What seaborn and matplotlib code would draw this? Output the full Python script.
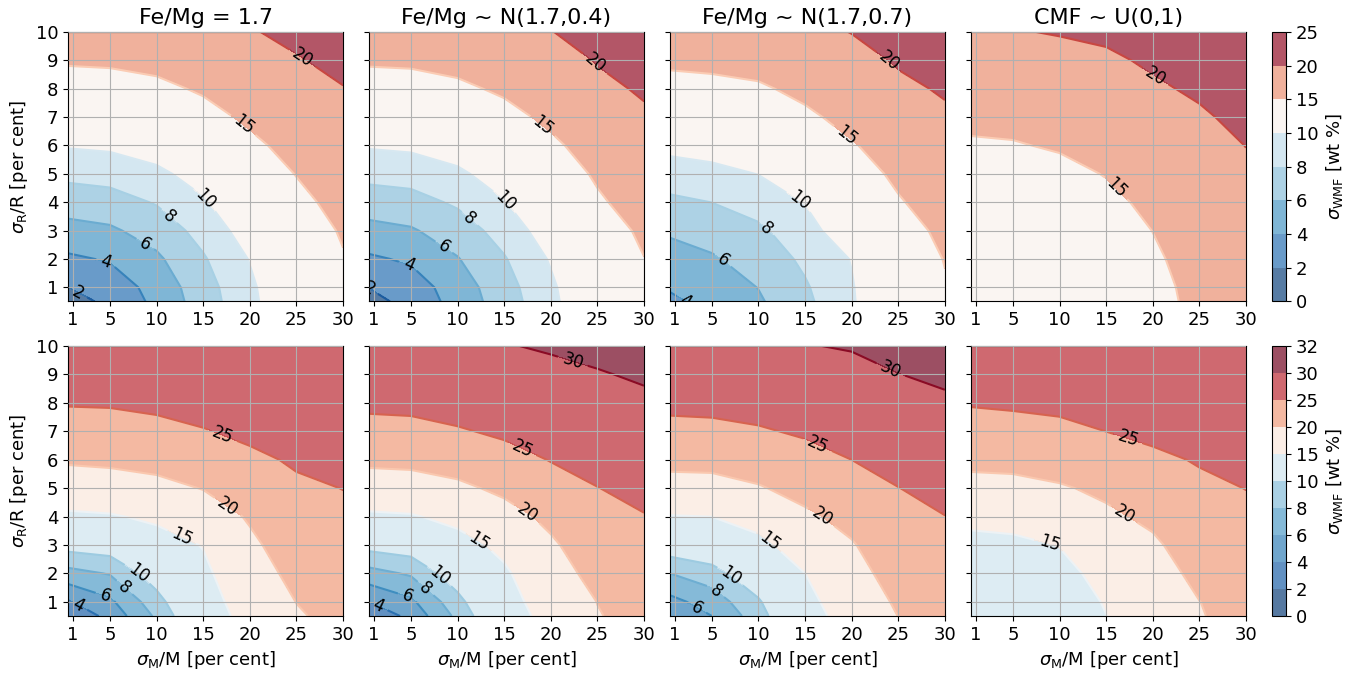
import numpy as np
import matplotlib
matplotlib.use("Agg")
import matplotlib.pyplot as plt
import seaborn as sns

sns.set_style("ticks")
plt.rcParams["font.family"] = ["DejaVu Sans"]
plt.rcParams["mathtext.fontset"] = "dejavusans"
for key in ["text.color", "axes.labelcolor", "axes.edgecolor", "xtick.color", "ytick.color"]:
    plt.rcParams[key] = "black"

# Grid of mass and radius uncertainties (per cent)
sigma_m = [0.5, 5, 10, 15, 20, 25, 30]
sigma_r = [0.5, 1, 2, 3, 4, 5, 6, 7, 8, 9, 10]

titles = ["Fe/Mg = 1.7", "Fe/Mg ~ N(1.7,0.4)", "Fe/Mg ~ N(1.7,0.7)", "CMF ~ U(0,1)"]
levels_top = [0, 2, 4, 6, 8, 10, 15, 20, 25]
levels_bottom = [0, 2, 4, 6, 8, 10, 15, 20, 25, 30, 32]
x_ticks = [1, 5, 10, 15, 20, 25, 30]
y_ticks = [1, 2, 3, 4, 5, 6, 7, 8, 9, 10]

# sigma_WMF [wt %]; rows follow sigma_r, columns follow sigma_m
top_fixed = [
    [1.3, 2.4, 4.5, 7.0, 9.5, 12.0, 14.5],
    [2.0, 2.84, 4.75, 7.16, 9.62, 12.1, 14.55],
    [3.67, 4.19, 5.66, 7.8, 10.1, 12.6, 14.8],
    [5.33, 5.7, 6.85, 8.7, 11.0, 13.3, 15.3],
    [6.92, 7.21, 8.15, 9.76, 12.0, 14.2, 16.0],
    [8.5, 8.74, 9.53, 10.93, 13.1, 15.1, 16.8],
    [10.17, 10.37, 11.04, 12.28, 14.3, 16.1, 17.7],
    [11.9, 12.07, 12.66, 13.9, 15.6, 17.2, 18.7],
    [13.6, 13.75, 14.27, 15.4, 16.9, 18.4, 19.85],
    [15.34, 15.47, 15.93, 16.81, 18.3, 19.7, 21.1],
    [17.06, 17.18, 17.59, 18.39, 19.7, 21.0, 22.4],
]
top_n04 = [
    [1.4, 2.6, 4.8, 7.0, 9.5, 12.1, 14.7],
    [2.05, 3.0, 5.0, 7.2, 9.65, 12.2, 14.8],
    [3.7, 4.3, 5.9, 7.85, 10.2, 12.8, 14.95],
    [5.4, 5.8, 7.0, 8.8, 11.1, 13.6, 15.5],
    [7.0, 7.3, 8.3, 9.9, 12.1, 14.6, 16.3],
    [8.6, 8.8, 9.6, 11.1, 13.3, 15.4, 17.2],
    [10.2, 10.4, 11.1, 12.4, 14.4, 16.4, 18.2],
    [11.9, 12.1, 12.7, 14.0, 15.7, 17.6, 19.5],
    [13.6, 13.8, 14.4, 15.5, 17.1, 19.2, 20.4],
    [15.4, 15.5, 16.0, 17.0, 18.5, 20.2, 21.5],
    [17.1, 17.2, 17.7, 18.6, 19.9, 21.3, 22.6],
]
top_n07 = [
    [3.7, 4.5, 5.75, 7.55, 9.8, 12.2, 14.7],
    [4.15, 4.88, 6.05, 7.78, 9.85, 12.4, 14.8],
    [5.2, 5.8, 6.81, 8.39, 10.1, 13.2, 15.1],
    [6.27, 6.77, 7.66, 9.15, 11.5, 13.9, 15.6],
    [7.6, 8.02, 8.78, 10.1, 12.5, 14.75, 16.4],
    [9.04, 9.4, 10.05, 11.3, 13.6, 15.6, 17.3],
    [10.58, 10.89, 11.46, 12.9, 14.75, 16.5, 18.3],
    [12.24, 12.5, 13.01, 14.4, 16.0, 18.0, 19.4],
    [13.89, 14.12, 14.57, 15.8, 17.2, 19.2, 20.4],
    [15.6, 15.81, 16.21, 17.2, 18.6, 20.4, 21.5],
    [17.2, 17.39, 17.75, 18.8, 20.1, 21.4, 22.6],
]
top_cmf = [
    [10.66, 10.92, 11.66, 12.8, 14.24, 15.6, 17.72],
    [10.76, 11.01, 11.74, 12.87, 14.31, 15.7, 17.78],
    [11.12, 11.36, 12.08, 13.18, 14.58, 16.1, 18.0],
    [11.7, 11.93, 12.61, 13.67, 15.03, 16.6, 18.36],
    [12.46, 12.68, 13.32, 14.33, 15.63, 17.16, 18.86],
    [13.38, 13.58, 14.18, 15.13, 16.37, 17.84, 19.4],
    [14.65, 14.8, 15.3, 16.06, 17.23, 18.63, 20.05],
    [15.7, 15.85, 16.3, 17.1, 18.3, 19.53, 20.9],
    [16.9, 17.0, 17.5, 18.22, 19.5, 20.52, 21.96],
    [18.1, 18.25, 18.9, 19.41, 20.5, 21.58, 22.95],
    [19.41, 19.8, 20.2, 20.66, 21.58, 22.71, 24.02],
]
bottom_fixed = [
    [2.2, 4.67, 8.35, 12.8, 16.5, 19.6, 21.2],
    [3.8, 5.62, 9.21, 13.25, 17.04, 20.06, 21.6],
    [7.31, 8.14, 11.17, 14.16, 18.11, 21.13, 22.5],
    [10.84, 11.2, 13.35, 15.18, 19.18, 22.2, 23.35],
    [14.34, 14.66, 15.73, 17.68, 20.44, 23.26, 24.2],
    [17.56, 17.94, 18.78, 20.16, 22.3, 24.33, 25.06],
    [20.56, 20.85, 21.42, 22.47, 24.15, 25.5, 26.1],
    [22.99, 23.16, 23.79, 24.77, 25.9, 26.7, 27.1],
    [25.3, 25.4, 25.9, 26.6, 27.3, 27.8, 28.0],
    [27.0, 27.1, 27.6, 28.0, 28.5, 28.8, 28.9],
    [28.5, 28.6, 29.0, 29.2, 29.5, 29.6, 29.7],
]
bottom_n04 = [
    [2.3, 4.6, 8.5, 12.9, 16.5, 19.8, 21.3],
    [4.0, 5.6, 9.33, 13.4, 17.1, 20.06, 21.8],
    [7.28, 8.27, 11.34, 14.4, 18.23, 21.28, 22.8],
    [10.76, 11.22, 13.57, 16.0, 19.39, 22.5, 23.8],
    [14.38, 14.69, 16.1, 18.44, 21.0, 23.72, 24.85],
    [17.79, 18.05, 19.15, 20.88, 23.14, 24.94, 25.97],
    [20.9, 21.1, 21.9, 23.32, 25.17, 26.14, 27.1],
    [23.56, 23.72, 24.57, 25.76, 26.47, 27.34, 28.2],
    [25.9, 26.1, 27.0, 27.5, 27.77, 28.55, 29.3],
    [27.6, 27.9, 28.4, 28.7, 29.06, 29.75, 30.46],
    [29.0, 29.3, 29.5, 29.8, 30.4, 31.0, 31.6],
]
bottom_n07 = [
    [4.5, 6.0, 9.1, 13.25, 16.9, 20.05, 21.6],
    [5.4, 6.9, 9.73, 13.83, 17.45, 20.55, 22.1],
    [8.0, 9.11, 11.75, 15.0, 18.56, 21.64, 23.04],
    [11.4, 12.04, 13.96, 17.13, 19.68, 22.73, 24.0],
    [14.83, 15.03, 16.62, 19.26, 21.3, 23.82, 24.95],
    [18.28, 18.43, 19.66, 21.43, 23.17, 24.95, 26.08],
    [21.26, 21.37, 22.17, 23.62, 25.01, 26.19, 27.22],
    [23.77, 23.9, 24.61, 25.5, 26.33, 27.44, 28.35],
    [26.0, 26.2, 26.5, 26.9, 27.65, 28.7, 29.49],
    [27.7, 27.8, 27.9, 28.25, 28.95, 29.95, 30.6],
    [29.0, 29.2, 29.3, 29.85, 30.26, 31.2, 31.7],
]
bottom_cmf = [
    [10.5, 11.0, 12.6, 14.95, 17.5, 19.75, 21.5],
    [10.7, 11.3, 12.8, 15.3, 17.7, 19.95, 21.8],
    [11.95, 12.3, 13.8, 16.3, 18.3, 21.0, 22.5],
    [13.83, 14.14, 15.13, 17.6, 19.36, 22.07, 23.3],
    [16.1, 16.43, 17.38, 19.3, 20.8, 23.13, 24.2],
    [18.6, 18.84, 19.62, 20.77, 22.5, 24.2, 25.06],
    [21.06, 21.18, 21.79, 22.89, 24.2, 25.3, 26.0],
    [23.27, 23.44, 23.95, 25.02, 25.92, 26.5, 26.9],
    [25.3, 25.62, 26.0, 26.8, 27.3, 27.6, 27.8],
    [27.0, 27.3, 27.7, 28.3, 28.6, 28.7, 28.8],
    [28.5, 28.8, 29.2, 29.5, 29.6, 29.7, 29.8],
]

# Where each panel's contour labels sit (sigma_M, sigma_R)
label_spots = [
    [
        [(2.0, 1.06), (4.6, 1.9), (8.9, 2.6), (11.6, 3.6), (15.2, 4.1), (19.5, 6.8), (25.5, 9.0)],
        [(0.6, 1.0), (4.75, 1.8), (8.7, 2.5), (11.5, 3.5), (15.3, 4.1), (19.4, 6.8), (24.75, 8.9)],
        [(2.7, 0.65), (6.8, 2.2), (11.1, 3.2), (14.3, 4.0), (19.8, 6.5), (23.8, 8.9)],
        [(16.1, 4.5), (20.4, 8.5)],
    ],
    [
        [(1.8, 1.0), (4.6, 1.3), (6.8, 1.6), (8.0, 2.0), (12.3, 3.0), (17.3, 4.2), (17.1, 6.9)],
        [(1.7, 1.0), (4.75, 1.3), (6.9, 1.6), (8.3, 2.0), (12.1, 3.0), (17.25, 4.0), (17.1, 6.5), (22.4, 9.5)],
        [(3.8, 1.0), (5.7, 1.5), (7.2, 2.0), (11.1, 3.1), (16.8, 4.0), (16.3, 6.5), (23.8, 8.9)],
        [(8.8, 2.9), (16.8, 4.0), (17.4, 6.8)],
    ],
]

rows = [
    ([top_fixed, top_n04, top_n07, top_cmf], levels_top, 24.0),
    ([bottom_fixed, bottom_n04, bottom_n07, bottom_cmf], levels_bottom, 31.5),
]

cmap = sns.color_palette("RdBu_r", as_cmap=True)

fig = plt.figure(figsize=(13.72, 6.79), dpi=100)

lefts = [0.0496, 0.2690, 0.4883, 0.7077]
width = 0.2004
row_boxes = [(0.5560, 0.3969), (0.0928, 0.3976)]
cbar_left, cbar_width = 0.9273, 0.0100

for r, (tables, levels, top_value) in enumerate(rows):
    bottom, height = row_boxes[r]
    for c, table in enumerate(tables):
        ax = fig.add_axes([lefts[c], bottom, width, height])
        z = np.array(table)
        cf = ax.contourf(sigma_m, sigma_r, z, levels=levels, cmap=cmap,
                         vmin=0, vmax=top_value, alpha=0.7)
        cs = ax.contour(sigma_m, sigma_r, z, levels=levels, cmap=cmap,
                        vmin=0, vmax=top_value, linewidths=1.5)
        ax.clabel(cs, fmt="%d", fontsize=12, colors="k", manual=label_spots[r][c])
        ax.set_xlim(sigma_m[0], sigma_m[-1])
        ax.set_ylim(sigma_r[0], sigma_r[-1])
        ax.set_xticks(x_ticks)
        ax.set_yticks(y_ticks)
        ax.grid(True, color="#b0b0b0", linewidth=0.8)
        ax.set_axisbelow(False)
        ax.tick_params(labelsize=13, length=3.5, width=0.8)
        for sp in ax.spines.values():
            sp.set_linewidth(0.8)
        if c == 0:
            ax.set_ylabel(r"$\sigma_{\rm R}$/R [per cent]", fontsize=13)
        else:
            ax.tick_params(labelleft=False)
        if r == 0:
            ax.set_title(titles[c], fontsize=16)
        else:
            ax.set_xlabel(r"$\sigma_{\rm M}$/M [per cent]", fontsize=13)
    cax = fig.add_axes([cbar_left, bottom, cbar_width, height])
    cb = fig.colorbar(cf, cax=cax, ticks=levels)
    cb.set_label(r"$\sigma_{\rm WMF}$ [wt %]", fontsize=13)
    cb.ax.tick_params(labelsize=13, length=3.5, width=0.8)
    cb.outline.set_linewidth(0.8)

fig.savefig("out.png", dpi=100)
